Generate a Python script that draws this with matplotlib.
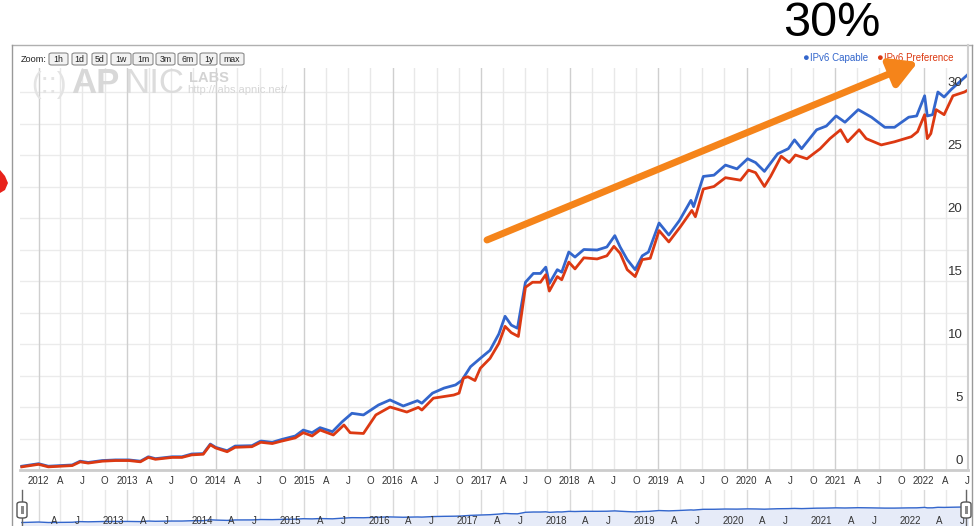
import numpy as np
import matplotlib
matplotlib.use("Agg")
import matplotlib.pyplot as plt
from matplotlib.patches import FancyBboxPatch, Polygon, FancyArrowPatch
from matplotlib.lines import Line2D
from matplotlib.transforms import blended_transform_factory

plt.rcParams['font.family'] = ['Liberation Sans', 'DejaVu Sans']

# -------------------------------
# DATA (fractional year, percent)
# -------------------------------
cap_t = [2011.81, 2012.00, 2012.11, 2012.38, 2012.47, 2012.56, 2012.72, 2012.87, 2013.02, 2013.15,
         2013.24, 2013.32, 2013.51, 2013.62, 2013.73, 2013.86, 2013.94, 2014.00, 2014.13, 2014.22,
         2014.41, 2014.51, 2014.64, 2014.75, 2014.90, 2014.99, 2015.09, 2015.18, 2015.32, 2015.43,
         2015.54, 2015.67, 2015.84, 2015.97, 2016.12, 2016.28, 2016.33, 2016.45, 2016.58, 2016.71,
         2016.78, 2016.88, 2016.99, 2017.10, 2017.20, 2017.27, 2017.34, 2017.41, 2017.50, 2017.59,
         2017.67, 2017.73, 2017.77, 2017.86, 2017.91, 2017.99, 2018.06, 2018.16, 2018.31, 2018.42,
         2018.51, 2018.57, 2018.65, 2018.74, 2018.82, 2018.89, 2019.01, 2019.12, 2019.24, 2019.37,
         2019.40, 2019.51, 2019.63, 2019.76, 2019.89, 2020.01, 2020.10, 2020.20, 2020.35, 2020.47,
         2020.54, 2020.62, 2020.79, 2020.90, 2021.01, 2021.11, 2021.26, 2021.41, 2021.56, 2021.67,
         2021.83, 2021.92, 2022.01, 2022.04, 2022.10, 2022.16, 2022.23, 2022.31, 2022.50]
cap_v = [0.3, 0.5, 0.3, 0.4, 0.7, 0.6, 0.75, 0.8, 0.8, 0.7,
         1.05, 0.9, 1.05, 1.05, 1.27, 1.3, 2.06, 1.8, 1.53, 1.9,
         1.93, 2.3, 2.2, 2.43, 2.7, 3.17, 2.96, 3.36, 3.04, 3.83,
         4.5, 4.37, 5.16, 5.56, 5.08, 5.5, 5.3, 6.1, 6.5, 6.75,
         7.1, 8.2, 8.86, 9.5, 10.8, 12.2, 11.5, 11.25, 14.9, 15.6,
         15.6, 16.1, 14.8, 15.9, 15.7, 17.3, 16.9, 17.5, 17.46, 17.7,
         18.6, 17.7, 16.7, 15.9, 17.0, 17.3, 19.6, 18.65, 19.8, 21.4,
         20.9, 23.3, 23.4, 24.2, 23.9, 24.7, 24.4, 23.7, 25.1, 25.5,
         26.2, 25.5, 27.0, 27.3, 28.1, 27.6, 28.6, 28.0, 27.2, 27.2,
         28.0, 28.1, 29.7, 28.1, 28.2, 30.0, 29.6, 30.2, 31.4]

pref_t = [2011.81, 2012.00, 2012.11, 2012.38, 2012.47, 2012.56, 2012.72, 2012.87, 2013.02, 2013.15,
          2013.24, 2013.32, 2013.51, 2013.62, 2013.73, 2013.86, 2013.94, 2014.00, 2014.13, 2014.22,
          2014.41, 2014.51, 2014.64, 2014.75, 2014.90, 2014.99, 2015.09, 2015.18, 2015.33, 2015.45,
          2015.52, 2015.67, 2015.81, 2015.97, 2016.16, 2016.29, 2016.33, 2016.46, 2016.69, 2016.75,
          2016.80, 2016.85, 2016.93, 2016.99, 2017.10, 2017.20, 2017.27, 2017.34, 2017.42, 2017.50,
          2017.58, 2017.67, 2017.73, 2017.77, 2017.86, 2017.91, 2017.99, 2018.06, 2018.16, 2018.31,
          2018.42, 2018.50, 2018.57, 2018.65, 2018.74, 2018.82, 2018.91, 2019.01, 2019.12, 2019.25,
          2019.38, 2019.42, 2019.51, 2019.63, 2019.76, 2019.93, 2020.02, 2020.10, 2020.20, 2020.27,
          2020.39, 2020.48, 2020.55, 2020.68, 2020.83, 2020.94, 2021.06, 2021.14, 2021.27, 2021.35,
          2021.52, 2021.67, 2021.86, 2021.93, 2022.01, 2022.04, 2022.08, 2022.14, 2022.23, 2022.33,
          2022.46, 2022.51]
pref_v = [0.25, 0.45, 0.25, 0.35, 0.65, 0.55, 0.7, 0.75, 0.75, 0.65,
          1.0, 0.85, 1.0, 1.0, 1.2, 1.25, 2.0, 1.75, 1.45, 1.8,
          1.85, 2.2, 2.1, 2.3, 2.55, 2.96, 2.7, 3.17, 2.78, 3.57,
          2.96, 2.9, 4.37, 5.0, 4.6, 4.97, 4.76, 5.7, 5.95, 6.1,
          7.3, 7.4, 7.1, 8.07, 8.86, 10.05, 11.4, 10.9, 10.6, 14.5,
          14.9, 14.9, 15.5, 14.2, 15.35, 15.1, 16.5, 15.96, 16.84, 16.75,
          17.0, 17.75, 17.2, 15.9, 15.35, 16.7, 16.8, 19.0, 18.1, 19.3,
          20.6, 20.1, 22.3, 22.5, 23.2, 23.0, 23.8, 23.6, 22.5, 23.3,
          24.9, 24.4, 25.0, 24.7, 25.5, 26.3, 27.0, 26.05, 27.0, 26.3,
          25.8, 26.05, 26.45, 26.85, 28.2, 26.3, 26.7, 28.6, 28.2, 29.7,
          30.0, 30.2]

years = list(range(2012, 2023))
month_frac = {'A': 90 / 365, 'J': 181 / 365, 'O': 273 / 365}
y_labels = [0, 5, 10, 15, 20, 25, 30]
zoom_buttons = ['1h', '1d', '5d', '1w', '1m', '3m', '6m', '1y', 'max']
series_names = ['IPv6 Capable', 'IPv6 Preference']
headline = '30%'

BLUE = '#3366cc'
RED = '#dc3912'
ORANGE = '#f5841a'

# -------------------------------
# helpers: image pixel -> figure fraction
# -------------------------------
W, H = 975, 526


def fx(x):
    return x / W


def fy(y):
    return 1 - y / H


fig = plt.figure(figsize=(9.75, 5.26), dpi=100)

# quarterly ticks
ticks, labels, is_year = [], [], []
for yr in [2011] + years:
    for lab, off in [(str(yr), 0.0), ('A', month_frac['A']), ('J', month_frac['J']), ('O', month_frac['O'])]:
        t = yr + off
        if 2011.79 <= t <= 2022.50:
            ticks.append(t)
            labels.append(lab)
            is_year.append(off == 0.0)

# -------------------------------
# MAIN CHART
# -------------------------------
ax = fig.add_axes([fx(20), fy(470), (968 - 20) / W, (470 - 68) / H])
ax.set_xlim(2011.79, 2022.50)
ax.set_ylim(0, (470 - 68) / 12.6)

for v in np.arange(2.5, 32, 2.5):
    ax.axhline(v, color='#ebebeb', lw=1, zorder=0)
for t, yflag in zip(ticks, is_year):
    ax.axvline(t, color='#cfcfcf' if yflag else '#e8e8e8', lw=1, zorder=0)

ax.plot(cap_t, cap_v, color=BLUE, lw=2, zorder=3)
ax.plot(pref_t, pref_v, color=RED, lw=2, zorder=4)

ybt = blended_transform_factory(ax.transAxes, ax.transData)
for v in y_labels:
    ax.annotate(str(v), xy=(1, v), xycoords=ybt, xytext=(-4, 4), textcoords='offset points',
                ha='right', va='baseline', fontsize=9.5, color='#333333')

ax.set_xticks(ticks)
ax.set_xticklabels(labels, fontsize=7, color='#333333')
ax.tick_params(axis='x', length=0, pad=4)
ax.set_yticks([])
for s in ['top', 'left', 'right']:
    ax.spines[s].set_visible(False)
ax.spines['bottom'].set_color('#cccccc')
ax.spines['bottom'].set_linewidth(2)

# -------------------------------
# NAVIGATOR
# -------------------------------
nav = fig.add_axes([fx(20), 0, (968 - 20) / W, 36 / H])
nav.set_xlim(2011.79, 2022.50)
nav.set_yscale('function', functions=(lambda v: np.sign(v) * np.sqrt(np.abs(v)),
                                      lambda s: np.sign(s) * s ** 2))
nav.set_ylim(-0.34, 122.8)
for t, yflag in zip(ticks, is_year):
    nav.axvline(t, color='#d9d9d9' if yflag else '#e8e8e8', lw=1, zorder=0)
nav.fill_between(cap_t, cap_v, -0.34, color='#e6ebf8', zorder=1)
nav.plot(cap_t, cap_v, color=BLUE, lw=1, zorder=2)
nbt = blended_transform_factory(nav.transData, nav.transAxes)
for t, lab in zip(ticks, labels):
    if lab == 'O' or t < 2012.1:
        continue
    nav.annotate(lab, xy=(t, 0.14), xycoords=nbt, xytext=(-2, 0), textcoords='offset points',
                 ha='right', va='center', fontsize=7, color='#333333', zorder=3)
nav.set_xticks([])
nav.set_yticks([])
for s in nav.spines.values():
    s.set_visible(False)

# handles
for hx in [22, 966]:
    fig.add_artist(Line2D([fx(hx), fx(hx)], [fy(490), fy(526)], color='#666666', lw=1))
    fig.patches.append(FancyBboxPatch((fx(hx - 5), fy(518)), 10 / W, 16 / H,
                                      boxstyle='round,pad=0,rounding_size=0.004',
                                      transform=fig.transFigure, fc='white', ec='#555555', lw=1, zorder=5))
    fig.patches.append(FancyBboxPatch((fx(hx - 1.5), fy(514)), 3 / W, 8 / H, boxstyle='square,pad=0',
                                      transform=fig.transFigure, fc='#888888', ec='none', zorder=6))

# -------------------------------
# FRAME
# -------------------------------
fig.add_artist(Line2D([fx(12), fx(972)], [fy(45), fy(45)], color='#b0b0b0', lw=1))
fig.add_artist(Line2D([fx(12), fx(12)], [fy(45), fy(526)], color='#999999', lw=1))
fig.add_artist(Line2D([fx(972), fx(972)], [fy(45), fy(526)], color='#999999', lw=1))
fig.add_artist(Line2D([fx(968), fx(968)], [fy(45), fy(470)], color='#d0d0d0', lw=1.5))

# zoom buttons
fig.text(fx(21), fy(59), 'Zoom:', fontsize=6.6, ha='left', va='center', color='#222222')
btn_x = [(49, 68), (72, 87), (92, 107), (111, 131), (133, 153), (156, 175), (178, 197), (200, 217), (220, 244)]
for (bx0, bx1), lab in zip(btn_x, zoom_buttons):
    fig.patches.append(FancyBboxPatch((fx(bx0), fy(65)), (bx1 - bx0) / W, 12 / H,
                                      boxstyle='round,pad=0,rounding_size=0.003',
                                      transform=fig.transFigure, fc='#f2f2f2', ec='#8a8a8a', lw=0.8))
    fig.text(fx((bx0 + bx1) / 2), fy(59), lab, fontsize=6.3, ha='center', va='center', color='#222222')

# watermark logo
fig.text(fx(31), fy(93), '(::)', fontsize=21, color='#e4e4e4', ha='left', va='baseline')
fig.text(fx(71), fy(93), 'AP', fontsize=25, color='#d8d8d8', ha='left', va='baseline', weight='bold')
fig.text(fx(124), fy(93), 'NIC', fontsize=25, color='#dcdcdc', ha='left', va='baseline')
fig.text(fx(189), fy(82), 'LABS', fontsize=10.5, color='#d3d3d3', ha='left', va='baseline', weight='bold')
fig.text(fx(187), fy(93), 'http://labs.apnic.net/', fontsize=8, color='#d6d6d6', ha='left', va='baseline')

# legend
fig.text(fx(805), fy(58), '\u25cf', fontsize=8, color=BLUE, ha='center', va='center')
fig.text(fx(810), fy(58), series_names[0], fontsize=7, color=BLUE, ha='left', va='center')
fig.text(fx(879), fy(58), '\u25cf', fontsize=8, color=RED, ha='center', va='center')
fig.text(fx(884), fy(58), series_names[1], fontsize=7, color=RED, ha='left', va='center')

# annotation: headline + trend arrow
fig.text(fx(832), fy(24), headline, fontsize=35, ha='center', va='center', color='black')
fig.add_artist(FancyArrowPatch((fx(487), fy(240)), (fx(918), fy(62)), transform=fig.transFigure,
                               arrowstyle='-|>,head_length=0.8,head_width=0.45', mutation_scale=20,
                               lw=5, color=ORANGE, shrinkA=0, shrinkB=0, zorder=10))

# red mark at left edge
fig.patches.append(Polygon([(fx(0), fy(170)), (fx(5), fy(176)), (fx(8), fy(183)), (fx(5), fy(190)), (fx(0), fy(193))],
                           closed=True, transform=fig.transFigure, fc='#e8221b', ec='none'))

fig.savefig("out.png", dpi=100)
